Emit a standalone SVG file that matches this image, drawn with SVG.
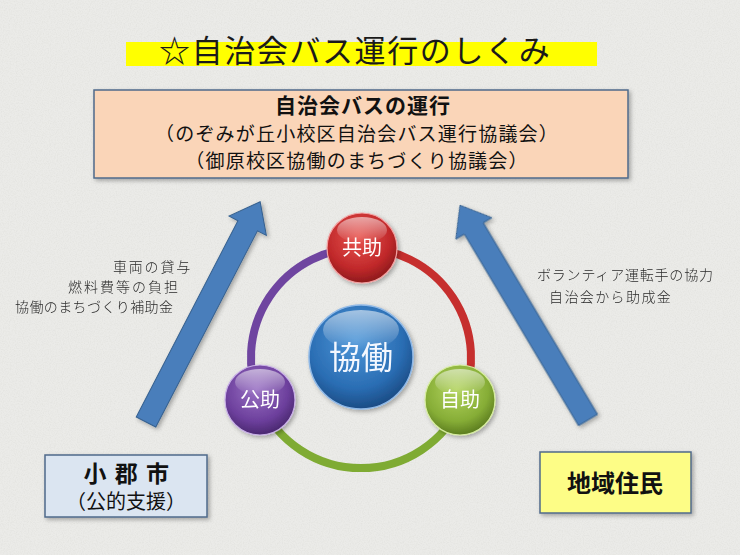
<svg xmlns="http://www.w3.org/2000/svg" width="740" height="555" viewBox="0 0 740 555">
<defs>
<style>
.jp{font-family:"Noto Sans CJK JP","Noto Sans CJK SC",sans-serif;}
.lbl{font-size:14px;fill:#2a2a2a;font-weight:300;}
.box{stroke:#4f6a8a;stroke-width:1.5;}
.arrow{fill:#4a7ebb;stroke:#35608f;stroke-width:1;}
.ntxt{font-size:20px;fill:#ffffff;text-anchor:middle;}
.ring{fill:none;stroke-width:8;stroke-linecap:round;}
</style>
<filter id="noise" x="0" y="0" width="100%" height="100%">
<feTurbulence type="fractalNoise" baseFrequency="0.85" numOctaves="2" seed="3"/>
<feColorMatrix type="matrix" values="0 0 0 0 0.55  0 0 0 0 0.55  0 0 0 0 0.53  0.9 0 0 0 -0.35"/>
</filter>
<filter id="sh" x="-20%" y="-20%" width="140%" height="140%">
<feDropShadow dx="2" dy="2" stdDeviation="2" flood-color="#000" flood-opacity="0.3"/>
</filter>
<radialGradient id="gRed" cx="45%" cy="35%" r="65%">
<stop offset="0" stop-color="#e8544f"/><stop offset="0.7" stop-color="#c0282a"/><stop offset="1" stop-color="#8e1a1c"/>
</radialGradient>
<radialGradient id="gGreen" cx="45%" cy="35%" r="65%">
<stop offset="0" stop-color="#b3d45f"/><stop offset="0.7" stop-color="#86ad36"/><stop offset="1" stop-color="#5c7d20"/>
</radialGradient>
<radialGradient id="gPurple" cx="45%" cy="35%" r="65%">
<stop offset="0" stop-color="#9a72c4"/><stop offset="0.7" stop-color="#6c3f9c"/><stop offset="1" stop-color="#4a2870"/>
</radialGradient>
<radialGradient id="gBlue" cx="45%" cy="35%" r="65%">
<stop offset="0" stop-color="#4d96d8"/><stop offset="0.7" stop-color="#2a6db3"/><stop offset="1" stop-color="#1b4c85"/>
</radialGradient>
<linearGradient id="gloss" x1="0" y1="0" x2="0" y2="1">
<stop offset="0" stop-color="#ffffff" stop-opacity="0.55"/><stop offset="1" stop-color="#ffffff" stop-opacity="0"/>
</linearGradient>
</defs>

<rect width="740" height="555" fill="#ebebe8"/>
<rect width="740" height="555" filter="url(#noise)" opacity="0.45"/>

<g id="title">
<rect x="126" y="42" width="471" height="24" fill="#ffff00"/>
<text class="jp" x="159" y="62" font-size="31" letter-spacing="1.6" fill="#1a1a1a">☆自治会バス運行のしくみ</text>
</g>

<g id="box-top">
<rect class="box" x="94" y="90" width="534" height="88" fill="#fad5b8" filter="url(#sh)"/>
<text class="jp" x="363" y="113" font-size="21" font-weight="bold" letter-spacing="1" text-anchor="middle" fill="#111">自治会バスの運行</text>
<text class="jp" x="357" y="141" font-size="19" letter-spacing="1.2" text-anchor="middle" fill="#111">（のぞみが丘小校区自治会バス運行協議会）</text>
<text class="jp" x="357" y="168" font-size="19" letter-spacing="1.2" text-anchor="middle" fill="#111">（御原校区協働のまちづくり協議会）</text>
</g>

<g id="connectors">
<g filter="url(#sh)">
<polygon class="arrow" transform="translate(146,422) rotate(-62.6)" points="0,-11 221,-11 221,-21 248,0 221,21 221,11 0,11"/>
<polygon class="arrow" transform="translate(588,420) rotate(-120.8)" points="0,-11 223,-11 223,-21 250,0 223,21 223,11 0,11"/>
</g>
<path class="ring" stroke="#c62f2e" d="M361,248 A110,110 0 0 1 462.3,401"/>
<path class="ring" stroke="#7fab33" d="M462.3,401 A110,110 0 0 1 259.7,401"/>
<path class="ring" stroke="#6f45a0" d="M259.7,401 A110,110 0 0 1 361,248"/>
</g>

<g id="node-kyodo" filter="url(#sh)">
<circle cx="361" cy="357" r="52" fill="url(#gBlue)" stroke="#8fb8e6" stroke-width="1.5"/>
<ellipse cx="361" cy="330" rx="38" ry="20" fill="url(#gloss)"/>
<text class="jp" x="361" y="369" font-size="32" text-anchor="middle" fill="#f4f8ff">協働</text>
</g>

<g id="node-kyojo" filter="url(#sh)">
<circle cx="362" cy="248" r="35" fill="url(#gRed)" stroke="#f2a0a0" stroke-width="1.2"/>
<ellipse cx="362" cy="230" rx="25" ry="13" fill="url(#gloss)"/>
<text class="jp ntxt" x="362" y="255">共助</text>
</g>

<g id="node-kojo" filter="url(#sh)">
<circle cx="260" cy="400" r="35" fill="url(#gPurple)" stroke="#c8b0e6" stroke-width="1.2"/>
<ellipse cx="260" cy="382" rx="25" ry="13" fill="url(#gloss)"/>
<text class="jp ntxt" x="260" y="407">公助</text>
</g>

<g id="node-jijo" filter="url(#sh)">
<circle cx="460" cy="400" r="35" fill="url(#gGreen)" stroke="#d6eca0" stroke-width="1.2"/>
<ellipse cx="460" cy="382" rx="25" ry="13" fill="url(#gloss)"/>
<text class="jp ntxt" x="460" y="407">自助</text>
</g>

<g id="label-left">
<text class="jp lbl" x="192" y="272" text-anchor="end" letter-spacing="1.8">車両の貸与</text>
<text class="jp lbl" x="180" y="292" text-anchor="end" letter-spacing="2">燃料費等の負担</text>
<text class="jp lbl" x="15" y="312" letter-spacing="0.4">協働のまちづくり補助金</text>
</g>

<g id="label-right">
<text class="jp lbl" x="537" y="280" letter-spacing="0.8">ボランティア運転手の協力</text>
<text class="jp lbl" x="549" y="302" letter-spacing="1.4">自治会から助成金</text>
</g>

<g id="box-left">
<rect class="box" x="45" y="455" width="162" height="62" fill="#dbe5f1" filter="url(#sh)"/>
<text class="jp" x="127" y="482" font-size="23" font-weight="bold" letter-spacing="1.5" text-anchor="middle" fill="#111">小 郡 市</text>
<text class="jp" x="126" y="509" font-size="20" text-anchor="middle" fill="#111">（公的支援）</text>
</g>

<g id="box-right">
<rect class="box" x="540" y="452" width="151" height="61" fill="#fdfd86" filter="url(#sh)"/>
<text class="jp" x="615" y="492" font-size="24" font-weight="bold" text-anchor="middle" fill="#111">地域住民</text>
</g>
</svg>
